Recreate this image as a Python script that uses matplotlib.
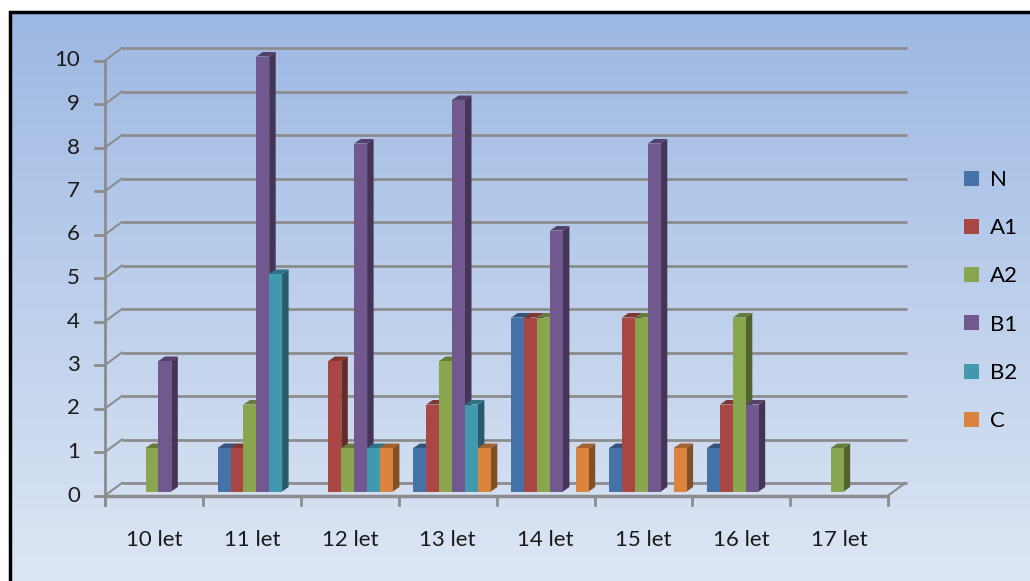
import numpy as np
import matplotlib.pyplot as plt
from matplotlib.patches import Polygon, Rectangle, Patch
from matplotlib.colors import to_rgb

plt.rcParams['font.family'] = ['Lato', 'DejaVu Sans']

categories = ["10 let", "11 let", "12 let", "13 let", "14 let", "15 let", "16 let", "17 let"]
series_names = ["N", "A1", "A2", "B1", "B2", "C"]
N = [0, 1, 0, 1, 4, 1, 1, 0]
A1 = [0, 1, 3, 2, 4, 4, 2, 0]
A2 = [1, 2, 1, 3, 4, 4, 4, 1]
B1 = [3, 10, 8, 9, 6, 8, 2, 0]
B2 = [0, 5, 1, 2, 0, 0, 0, 0]
C = [0, 0, 1, 1, 1, 1, 0, 0]
series_values = [N, A1, A2, B1, B2, C]
colors = ["#4572a7", "#aa4643", "#89a54e", "#71588f", "#4198af", "#db843d"]
y_ticks = list(range(0, 11))

W, H = 1030, 581
PX, PY = 97.9, 43.5          # pixels per category / per unit
X0, Y0 = 105, 495.5          # pixel position of the front origin


def dx(p):
    return p / PX


def dy(p):
    return p / PY


def fx(px):
    return (px - X0) / PX


def fy(py):
    return (Y0 - py) / PY


def shade(c, f):
    r, g, b = to_rgb(c)
    return (r * f, g * f, b * f)


fig = plt.figure(figsize=(W / 100, H / 100), dpi=100)
ax = fig.add_axes([0, 0, 1, 1])
ax.set_xlim(fx(0), fx(W))
ax.set_ylim(fy(H), fy(0))
ax.axis('off')

# chart area gradient; the frame runs past the right and bottom edges
top_c = np.array(to_rgb("#9db8e3"))
bot_c = np.array(to_rgb("#dde6f4"))
t = np.linspace(0, 1, 256)[:, None]
grad = (top_c * (1 - t) + bot_c * t)[:, None, :]
ax.imshow(grad, extent=(fx(10), fx(W), fy(H), fy(12)), aspect='auto', zorder=0)
ax.plot([fx(10), fx(10), fx(W)], [fy(H), fy(12), fy(12)], color='black', lw=2.5,
        zorder=50, solid_joinstyle='miter')

grid_c = "#8c8c8c"
wall_dx, wall_dy = dx(17), dy(12.5)
n_cat = len(categories)

# back wall gridlines with the slanted connector at the left side
for v in y_ticks:
    ax.plot([wall_dx, fx(907)], [v + wall_dy, v + wall_dy], color=grid_c, lw=2, zorder=2,
            solid_capstyle='butt')
    ax.plot([0, wall_dx], [v, v + wall_dy], color=grid_c, lw=1.5, zorder=2)
    ax.plot([fx(95), 0], [v, v], color=grid_c, lw=2, zorder=2)
    ax.text(fx(80), v, str(v), ha='right', va='center', fontsize=16, color='#1a1a1a', zorder=3)

# floor front edge and axes
ax.plot([0, 0], [fy(505), 10], color=grid_c, lw=2, zorder=2)
ax.plot([0, n_cat], [0, 0], color=grid_c, lw=2.5, zorder=2)
ax.plot([n_cat, n_cat + wall_dx], [0, wall_dy], color=grid_c, lw=1.5, zorder=2)
for i in range(n_cat + 1):
    ax.plot([i, i], [0, fy(505)], color=grid_c, lw=2, zorder=2)
for i, lab in enumerate(categories):
    ax.text(i + 0.5, fy(540), lab, ha='center', va='center', fontsize=16, color='#1a1a1a')

# 3D-looking bars
bw = dx(12.9)
ddx, ddy = dx(6.5), dy(4.5)
base = dy(4)
z = 5
for i in range(n_cat):
    for j, vals in enumerate(series_values):
        val = vals[i]
        if val == 0:
            continue
        c = colors[j]
        x0 = i + dx(14.7) + j * bw
        top = base + val
        ax.add_patch(Polygon([(x0 + bw, base), (x0 + bw + ddx, base + ddy),
                              (x0 + bw + ddx, top + ddy), (x0 + bw, top)],
                             closed=True, facecolor=shade(c, 0.6), edgecolor='none', zorder=z))
        ax.add_patch(Polygon([(x0, top), (x0 + ddx, top + ddy),
                              (x0 + bw + ddx, top + ddy), (x0 + bw, top)],
                             closed=True, facecolor=shade(c, 0.75), edgecolor='none', zorder=z))
        ax.add_patch(Rectangle((x0, base), bw, val, facecolor=c, edgecolor='none', zorder=z + 0.5))
        z += 1

handles = [Patch(facecolor=c, edgecolor='none') for c in colors]
ax.legend(handles, series_names, loc='upper left', bbox_to_anchor=(964 / W, 1 - 170 / H),
          bbox_transform=fig.transFigure, frameon=False, fontsize=16,
          handlelength=0.66, handleheight=0.66, handletextpad=0.5, labelspacing=1.27,
          borderaxespad=0, borderpad=0)

fig.savefig("out.png", dpi=100)
